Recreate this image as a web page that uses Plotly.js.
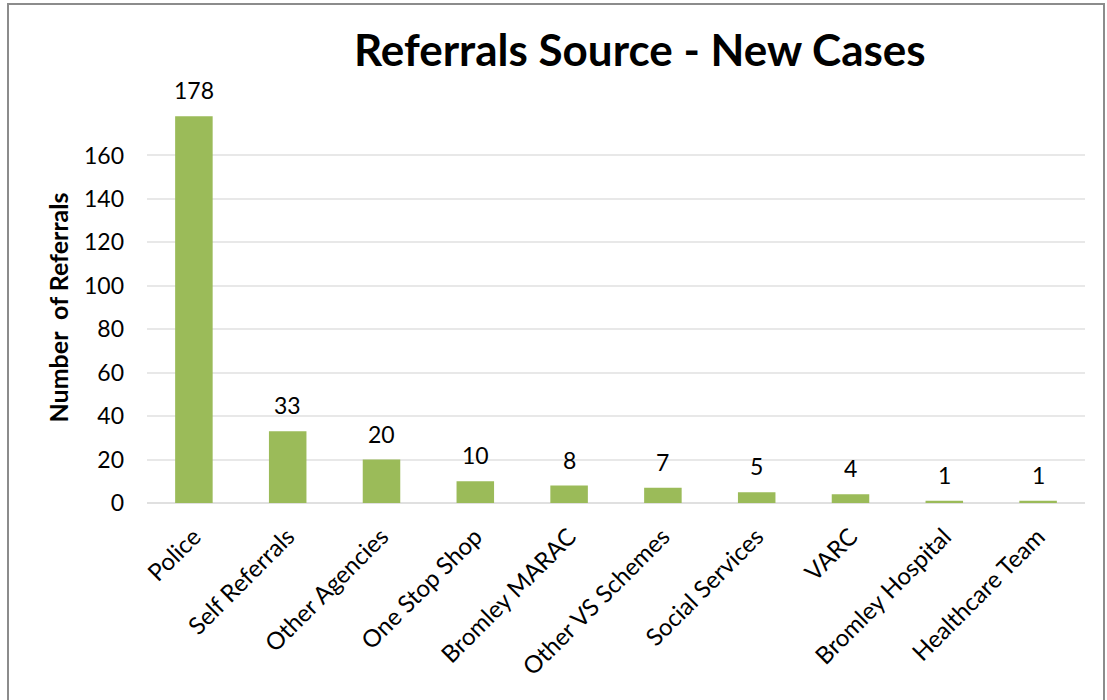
<!DOCTYPE html>
<html>
<head>
<meta charset="utf-8">
<script src="https://cdn.plot.ly/plotly-3.0.1.min.js"></script>
<style>
html,body{margin:0;padding:0;background:#fff;}
#chart{width:1107px;height:700px;position:absolute;left:0;top:0;}
#frame{position:absolute;left:7px;top:3px;width:1094px;height:710px;border:2px solid #8c8c8c;pointer-events:none;}
</style>
</head>
<body>
<div id="chart"></div>
<div id="frame"></div>
<script>
const categories = ["Police","Self Referrals","Other Agencies","One Stop Shop","Bromley MARAC","Other VS Schemes","Social Services","VARC","Bromley Hospital","Healthcare Team"];
const referrals = [178,33,20,10,8,7,5,4,1,1];
const yTicks = [0,20,40,60,80,100,120,140,160];

const font = "Lato, 'Open Sans', sans-serif";

const labelAnnotations = categories.map((c, i) => ({
  x: c, y: referrals[i], xref: "x", yref: "y",
  text: String(referrals[i]),
  showarrow: false,
  yanchor: "bottom",
  yshift: 10,
  font: {family: font, size: 23, color: "#000"}
}));

Plotly.newPlot("chart", [{
  type: "bar",
  x: categories,
  y: referrals,
  marker: {color: "#9BBB59"},
  hoverinfo: "x+y"
}], {
  width: 1107,
  height: 700,
  paper_bgcolor: "#fff",
  plot_bgcolor: "#fff",
  margin: {l: 147, r: 22, t: 112, b: 197},
  bargap: 0.6,
  showlegend: false,
  annotations: labelAnnotations,
  title: {
    text: "<b>Referrals Source - New Cases</b>",
    font: {family: font, size: 44, color: "#000"},
    x: 0.578, xanchor: "center",
    y: 0.928, yanchor: "middle"
  },
  xaxis: {
    tickangle: -45,
    tickfont: {family: font, size: 24, color: "#000"},
    showgrid: false,
    showline: false,
    ticks: "",
    ticklabelstandoff: 14
  },
  yaxis: {
    range: [0, 180],
    tickvals: yTicks,
    ticktext: yTicks.map(String),
    tickfont: {family: font, size: 23, color: "#000"},
    showgrid: true,
    gridcolor: "#e8e8e8",
    gridwidth: 1.5,
    zeroline: true,
    zerolinecolor: "#e0e0e0",
    zerolinewidth: 1.5,
    ticks: "",
    ticklabelstandoff: 22,
    title: {
      text: "<b>Number  of Referrals</b>",
      font: {family: font, size: 25, color: "#000"},
      standoff: 8
    }
  }
}, {displayModeBar: false});
</script>
</body>
</html>
